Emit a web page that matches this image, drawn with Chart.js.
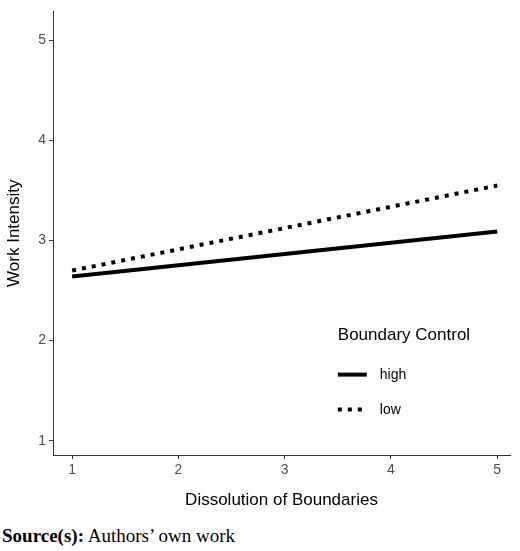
<!DOCTYPE html>
<html>
<head>
<meta charset="utf-8">
<script src="https://cdn.jsdelivr.net/npm/chart.js@4"></script>
<style>
  body { margin: 0; background: #fff; width: 520px; }
  #wrap { width: 520px; height: 515px; position: relative; }
  .src { font-family: "Liberation Serif", serif; font-size: 19px; margin: 10px 0 0 2px; }
</style>
</head>
<body>
<div id="wrap"><canvas id="myChart"></canvas></div>
<div class="src"><b>Source(s):</b> Authors’ own work</div>
<script>
const xValues = [1, 5];
const highValues = [2.64, 3.09];
const lowValues = [2.70, 3.55];
const tickValues = [1, 2, 3, 4, 5];
const legendTitle = "Boundary Control";
const seriesNames = ["high", "low"];

const toPoints = (vals) => xValues.map((x, i) => ({ x: x, y: vals[i] }));

const legendPlugin = {
  id: "insideLegend",
  afterDraw: (chart) => {
    const ctx = chart.ctx;
    const xs = chart.scales.x;
    const ys = chart.scales.y;
    const left = xs.getPixelForValue(3.5);
    const top = ys.getPixelForValue(2.05);
    ctx.save();
    ctx.fillStyle = "#000";
    ctx.font = "17px 'Liberation Sans', Arial";
    ctx.textBaseline = "middle";
    ctx.fillText(legendTitle, left, top);
    ctx.font = "14px 'Liberation Sans', Arial";
    const styles = [[], [4, 6]];
    seriesNames.forEach((name, i) => {
      const y = top + 39 + i * 35;
      ctx.lineWidth = 4;
      ctx.strokeStyle = "#000";
      ctx.setLineDash(styles[i]);
      ctx.beginPath();
      ctx.moveTo(left, y);
      ctx.lineTo(left + 29, y);
      ctx.stroke();
      ctx.setLineDash([]);
      ctx.fillText(name, left + 42, y + 1);
    });
    ctx.restore();
  },
};

const axisStyle = {
  border: { display: true, color: "#333", width: 1 },
  grid: { drawOnChartArea: false, drawTicks: true, tickLength: 4, color: "#333" },
  ticks: { color: "#4d4d4d", font: { size: 14, family: "'Liberation Sans', Arial" } },
  afterBuildTicks: (axis) => { axis.ticks = tickValues.map((v) => ({ value: v })); },
};

new Chart(document.getElementById("myChart"), {
  type: "line",
  data: {
    datasets: [
      { label: seriesNames[0], data: toPoints(highValues), borderColor: "#000", borderWidth: 4, pointRadius: 0 },
      { label: seriesNames[1], data: toPoints(lowValues), borderColor: "#000", borderWidth: 4, borderDash: [4, 6], pointRadius: 0 },
    ],
  },
  options: {
    responsive: true,
    maintainAspectRatio: false,
    animation: false,
    layout: { padding: { top: 0, right: 10, left: 0, bottom: 0 } },
    plugins: { legend: { display: false }, tooltip: { enabled: false } },
    scales: {
      x: {
        ...axisStyle,
        type: "linear",
        min: 0.82,
        max: 5.12,
        title: { display: true, text: "Dissolution of Boundaries", color: "#000", font: { size: 17, family: "'Liberation Sans', Arial" }, padding: { top: 0 } },
        afterFit: (axis) => { axis.height = 60; },
      },
      y: {
        ...axisStyle,
        min: 0.857,
        max: 5.29,
        title: { display: true, text: "Work Intensity", color: "#000", font: { size: 17, family: "'Liberation Sans', Arial" }, padding: { bottom: 4 } },
        afterFit: (axis) => { axis.width = 53; },
      },
    },
  },
  plugins: [legendPlugin],
});
</script>
</body>
</html>
